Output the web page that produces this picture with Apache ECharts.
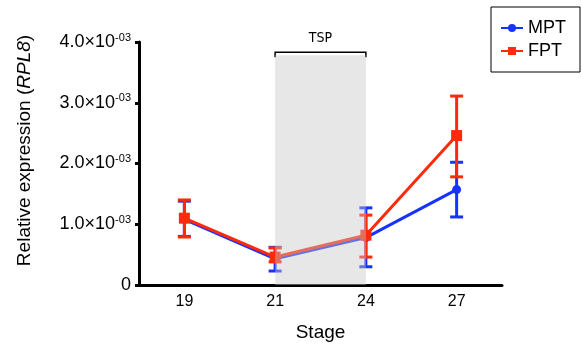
<!DOCTYPE html>
<html>
<head>
<meta charset="utf-8">
<script src="https://cdn.jsdelivr.net/npm/echarts@6/dist/echarts.min.js"></script>
<style>
  html, body { margin: 0; padding: 0; background: #fff; }
  #chart { width: 582px; height: 349px; }
</style>
</head>
<body>
<div id="chart"></div>
<script>
var stages = ["19", "21", "24", "27"];
var mptMean = [1.08e-3, 0.43e-3, 0.78e-3, 1.57e-3];
var mptLow = [0.80e-3, 0.23e-3, 0.30e-3, 1.12e-3];
var mptHigh = [1.38e-3, 0.62e-3, 1.27e-3, 2.02e-3];
var fptMean = [1.10e-3, 0.46e-3, 0.82e-3, 2.46e-3];
var fptLow = [0.79e-3, 0.38e-3, 0.46e-3, 1.78e-3];
var fptHigh = [1.40e-3, 0.61e-3, 1.15e-3, 3.11e-3];
var tspRange = ["21", "24"];
var tspTop = 3.83e-3;

var blue = "#1733ff";
var red = "#ff2a0a";
var font = "Liberation Sans, Arial, sans-serif";

var chart = echarts.init(document.getElementById("chart"));

function errData(low, high) {
  return stages.map(function (s, i) {
    return [i, low[i], high[i]];
  });
}

function errRender(color) {
  return function (params, api) {
    var lo = api.coord([api.value(0), api.value(1)]);
    var hi = api.coord([api.value(0), api.value(2)]);
    var w = 6.5;
    var st = { stroke: color, lineWidth: 3 };
    return {
      type: "group",
      children: [
        { type: "line", shape: { x1: lo[0], y1: lo[1], x2: hi[0], y2: hi[1] }, style: st },
        { type: "line", shape: { x1: lo[0] - w, y1: lo[1], x2: lo[0] + w, y2: lo[1] }, style: st },
        { type: "line", shape: { x1: hi[0] - w, y1: hi[1], x2: hi[0] + w, y2: hi[1] }, style: st },
      ],
    };
  };
}

chart.setOption({
  animation: false,
  backgroundColor: "#fff",
  textStyle: { fontFamily: font, color: "#000" },
  grid: { left: 139, right: 80, top: 42, bottom: 64 },
  legend: {
    orient: "vertical",
    right: 2,
    top: 7,
    padding: [12, 14, 12, 9],
    itemGap: 5,
    itemWidth: 22,
    itemHeight: 10,
    borderColor: "#000",
    borderWidth: 1,
    textStyle: { fontSize: 18, color: "#000", fontFamily: font },
    data: ["MPT", "FPT"],
  },
  xAxis: {
    type: "category",
    data: stages,
    name: "Stage",
    nameLocation: "middle",
    nameGap: 38,
    nameTextStyle: { fontSize: 19, color: "#000" },
    axisLine: { lineStyle: { color: "#000", width: 3 } },
    axisTick: { alignWithLabel: true, length: 5, lineStyle: { color: "#000", width: 3 } },
    axisLabel: { fontSize: 16, color: "#000", margin: 9 },
  },
  yAxis: {
    type: "value",
    min: 0,
    max: 4e-3,
    interval: 1e-3,
    name: "Relative expression ({i|RPL8})",
    nameLocation: "middle",
    nameGap: 105,
    nameTextStyle: {
      fontSize: 19,
      color: "#000",
      padding: [0, 0, 0, 26],
      rich: { i: { fontSize: 19, fontStyle: "italic", color: "#000" } },
    },
    splitLine: { show: false },
    axisLine: { show: true, lineStyle: { color: "#000", width: 3 } },
    axisTick: { show: true, length: 4, lineStyle: { color: "#000", width: 3 } },
    axisLabel: {
      fontSize: 18,
      color: "#000",
      margin: 8,
      formatter: function (v) {
        if (v === 0) return "0";
        return (v * 1000).toFixed(1) + "×10{sup|-03}";
      },
      rich: {
        sup: { fontSize: 11, color: "#000", verticalAlign: "top", padding: [0, 0, 9, 0] },
      },
    },
  },
  series: [
    {
      name: "TSP",
      type: "line",
      data: [],
      z: 10,
      markArea: {
        silent: true,
        z: 10,
        itemStyle: { color: "rgba(200,200,200,0.43)" },
        data: [[{ xAxis: tspRange[0], yAxis: 0 }, { xAxis: tspRange[1], yAxis: 3.78e-3 }]],
      },
    },
    {
      name: "MPT",
      type: "line",
      data: mptMean,
      color: blue,
      symbol: "circle",
      symbolSize: 9,
      lineStyle: { width: 3, color: blue },
      itemStyle: { color: blue },
      z: 2,
    },
    {
      name: "MPT err",
      type: "custom",
      data: errData(mptLow, mptHigh),
      renderItem: errRender(blue),
      z: 2,
    },
    {
      name: "FPT",
      type: "line",
      data: fptMean,
      color: red,
      symbol: "rect",
      symbolSize: 11,
      lineStyle: { width: 3, color: red },
      itemStyle: { color: red },
      z: 3,
    },
    {
      name: "FPT err",
      type: "custom",
      data: errData(fptLow, fptHigh),
      renderItem: errRender(red),
      z: 3,
    },
    {
      name: "bracket",
      type: "custom",
      data: [[stages.indexOf(tspRange[0]), tspTop, stages.indexOf(tspRange[1])]],
      clip: false,
      z: 4,
      renderItem: function (params, api) {
        var a = api.coord([api.value(0), api.value(1)]);
        var b = api.coord([api.value(2), api.value(1)]);
        return {
          type: "group",
          children: [
            {
              type: "polyline",
              shape: { points: [[a[0], a[1] + 5], [a[0], a[1]], [b[0], b[1]], [b[0], b[1] + 5]] },
              style: { stroke: "#000", lineWidth: 1.5, fill: null },
            },
            {
              type: "text",
              x: (a[0] + b[0]) / 2,
              y: a[1] - 7,
              style: { text: "TSP", fontSize: 14, fontFamily: "DejaVu Sans Condensed, sans-serif", fill: "#000", align: "center", verticalAlign: "bottom" },
            },
          ],
        };
      },
    },
  ],
});
</script>
</body>
</html>
